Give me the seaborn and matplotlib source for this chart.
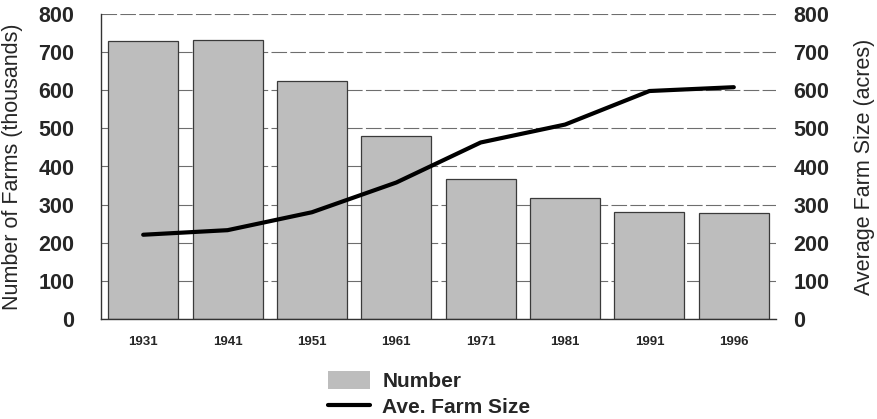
import numpy as np
import pandas as pd
import matplotlib
matplotlib.use("Agg")
import matplotlib.pyplot as plt
from matplotlib.patches import Patch
from matplotlib.lines import Line2D
import seaborn as sns

# ── Data ─────────────────────────────────────────────────────────────────────
years = ["1931", "1941", "1951", "1961", "1971", "1981", "1991", "1996"]
num_farms = [728, 733, 623, 481, 366, 318, 281, 277]      # thousands
avg_size = [221, 233, 280, 358, 463, 510, 598, 608]       # acres

df = pd.DataFrame({"year": years, "farms": num_farms, "size": avg_size})
df["pos"] = np.arange(len(df))

# ── Style ────────────────────────────────────────────────────────────────────
sns.set_style("white")
plt.rcParams["font.family"] = ["Liberation Sans", "DejaVu Sans"]
BAR = "#bdbdbd"
GRID = "#6e6e6e"

fig = plt.figure(figsize=(8.77, 4.19), dpi=100)
ax = fig.add_axes([101 / 877, 1 - 319 / 419, 675 / 877, 305 / 419])

sns.barplot(data=df, x="pos", y="farms", color=BAR, width=0.83,
            edgecolor="#3a3a3a", linewidth=0.9, saturation=1, ax=ax, zorder=2)

ax.set_ylim(0, 800)
ax.set_xlim(-0.5, len(years) - 0.5)
ax.set_yticks(range(0, 801, 100))
ax.yaxis.grid(True, color=GRID, linewidth=0.8, linestyle=(0, (14, 3)))
ax.set_axisbelow(True)
ax.set_xticks(df["pos"])
ax.set_xticklabels(years, fontsize=9.5, fontweight="bold")
ax.tick_params(axis="x", length=0, pad=12)
ax.tick_params(axis="y", length=0, pad=19, labelsize=15.5)
for lbl in ax.get_yticklabels():
    lbl.set_fontweight("bold")
ax.set_xlabel("")
ax.set_ylabel("Number of Farms (thousands)", fontsize=15.5, labelpad=11)
for s in ["top", "right"]:
    ax.spines[s].set_visible(False)
for s in ["left", "bottom"]:
    ax.spines[s].set_color("#333333")
    ax.spines[s].set_linewidth(1.0)

ax2 = ax.twinx()
sns.lineplot(data=df, x="pos", y="size", color="black", linewidth=3, ax=ax2, zorder=3)
ax2.set_ylim(0, 800)
ax2.set_xlim(-0.5, len(years) - 0.5)
ax2.set_yticks(range(0, 801, 100))
ax2.tick_params(axis="y", length=0, pad=12.5, labelsize=15.5)
for lbl in ax2.get_yticklabels():
    lbl.set_fontweight("bold")
ax2.set_ylabel("Average Farm Size (acres)", fontsize=15.5, labelpad=18)
ax2.set_xlabel("")
for s in ["top", "right", "left", "bottom"]:
    ax2.spines[s].set_visible(False)

handles = [Patch(facecolor=BAR, edgecolor="none"),
           Line2D([0], [0], color="black", linewidth=3)]
fig.legend(handles, ["Number", "Ave. Farm Size"], loc="upper left",
           bbox_to_anchor=(320 / 877, 1 - 363 / 419), frameon=False,
           prop={"weight": "bold", "size": 15}, handlelength=2.0,
           handleheight=0.9, labelspacing=0.3, handletextpad=0.6,
           borderaxespad=0)

fig.savefig("out.png", dpi=100)
